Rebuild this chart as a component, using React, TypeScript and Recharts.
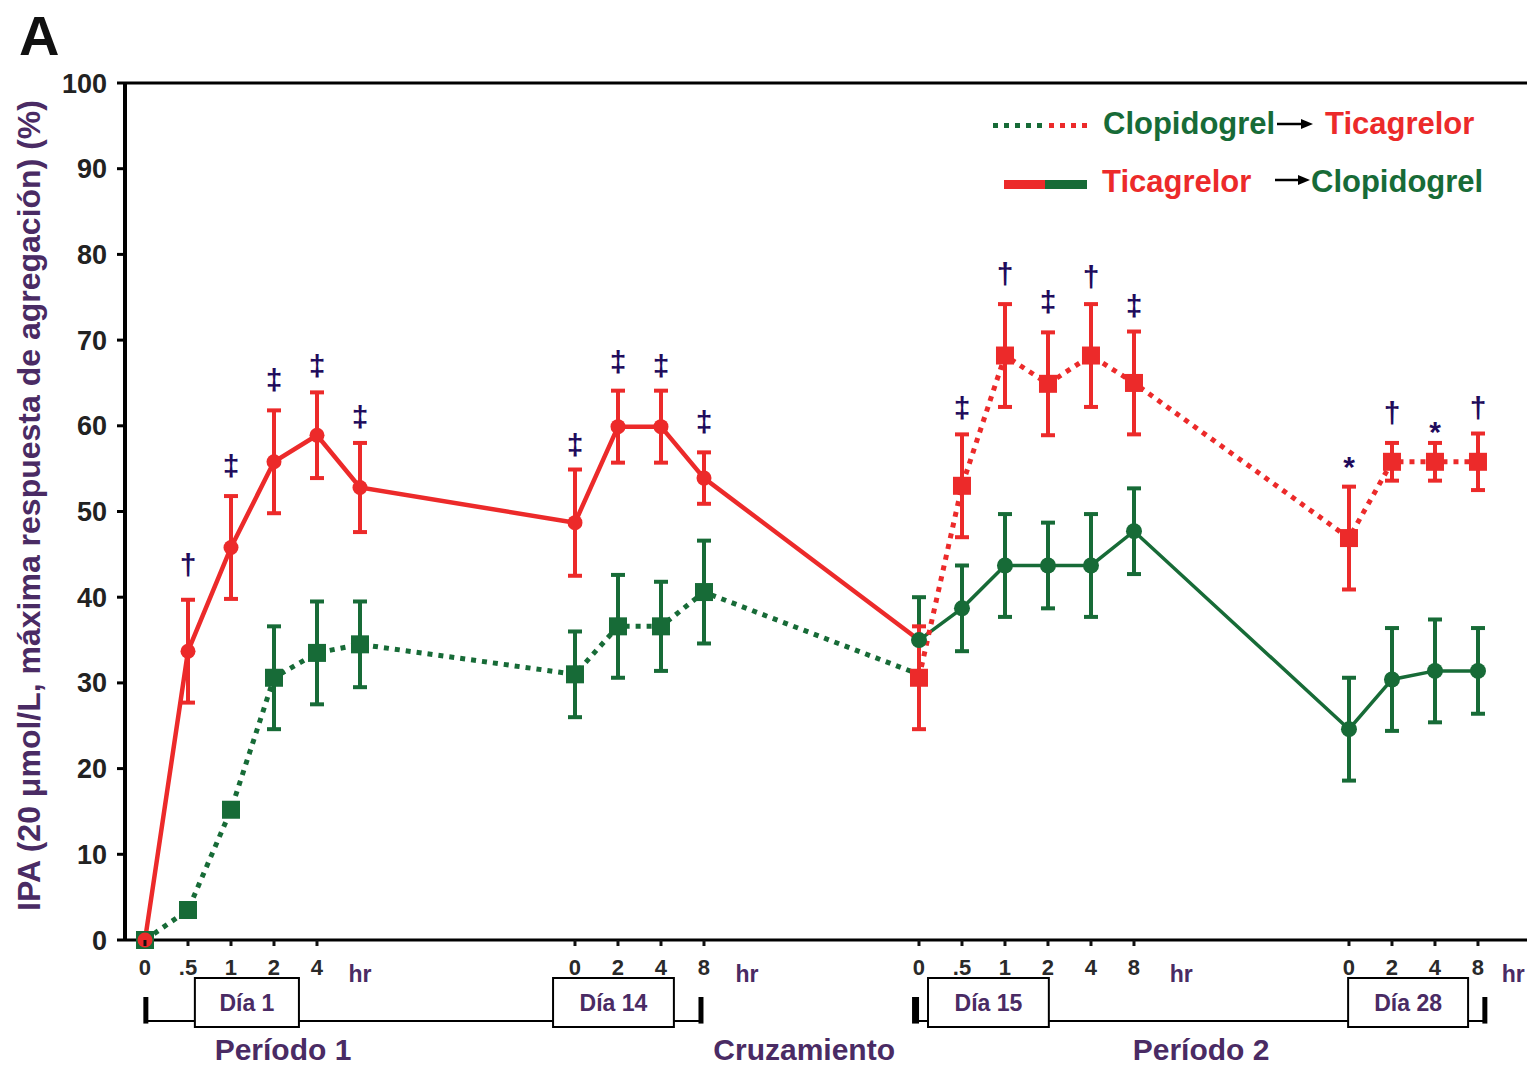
import React from 'react';
import {
  ComposedChart,
  Line,
  XAxis,
  YAxis,
  ErrorBar,
  ReferenceLine,
  ReferenceArea,
  ReferenceDot,
} from 'recharts';

// ---------- DATA ----------
// time-point slots along the x axis (each slot = one sampling time)
const xP1 = [0, 1, 2, 3, 4, 5, 10, 11, 12, 13, 18];
const xP2 = [18, 19, 20, 21, 22, 23, 28, 29, 30, 31];

// Clopidogrel -> Ticagrelor group
const clopP1 = [0, 3.5, 15.2, 30.6, 33.5, 34.5, 31, 36.6, 36.6, 40.6, 31];
const clopP1Err = [0, 0, 0, 6, 6, 5, 5, 6, 5.2, 6, 0];
const ticaP2 = [30.6, 53, 68.2, 64.9, 68.2, 65, 46.9, 55.8, 55.8, 55.8];
const ticaP2Err = [6, 6, 6, 6, 6, 6, 6, 2.2, 2.2, 3.3];

// Ticagrelor -> Clopidogrel group
const ticaP1 = [0, 33.7, 45.8, 55.8, 58.9, 52.8, 48.7, 59.9, 59.9, 53.9, 35];
const ticaP1Err = [0, 6, 6, 6, 5, 5.2, 6.2, 4.2, 4.2, 3, 0];
const clopP2 = [35, 38.7, 43.7, 43.7, 43.7, 47.7, 24.6, 30.4, 31.4, 31.4];
const clopP2Err = [5, 5, 6, 5, 6, 5, 6, 6, 6, 5];

// significance marks
const annX = [1, 2, 3, 4, 5, 10, 11, 12, 13, 19, 20, 21, 22, 23, 28, 29, 30, 31];
const annY = [43.8, 55.4, 65.4, 67.1, 61.1, 57.8, 67.5, 67.1, 60.5, 62.2, 77.8, 74.5, 77.4, 74.1, 55.3, 61.6, 59.3, 62.2];
const annSym = ['†', '‡', '‡', '‡', '‡', '‡', '‡', '‡', '‡', '‡', '†', '‡', '†', '‡', '*', '†', '*', '†'];

// axis ticks
const tickXs = [0, 1, 2, 3, 4, 5, 10, 11, 12, 13, 14, 18, 19, 20, 21, 22, 23, 24.1, 28, 29, 30, 31, 31.82];
const tickLabels = ['0', '.5', '1', '2', '4', 'hr', '0', '2', '4', '8', 'hr', '0', '.5', '1', '2', '4', '8', 'hr', '0', '2', '4', '8', 'hr'];
const yTicks = [0, 10, 20, 30, 40, 50, 60, 70, 80, 90, 100];

// study phase labels
const dayNames = ['Día 1', 'Día 14', 'Día 15', 'Día 28'];
const periodNames = ['Período 1', 'Cruzamiento', 'Período 2'];

// ---------- STYLE / LAYOUT ----------
const RED = '#ec2a2a';
const GREEN = '#176b37';
const NAVY = '#1f0b5c';
const PURPLE = '#4a2b64';
const FONT = '"Liberation Sans", Arial, Helvetica, sans-serif';

const dayBoxes = [
  [1.16, 3.58],
  [9.49, 12.3],
  [18.21, 21.02],
  [27.98, 30.77],
];
const periodX = [3.21, 15.33, 24.56];
const brackets = [
  [0.02, 12.93],
  [17.92, 31.16],
];
const BOX_TOP = -4.43;
const BOX_BOT = -10.15;
const BR_Y = -9.45;
const TICK_TOP = -6.65;
const TICK_BOT = -9.75;
const PERIOD_Y = -12.75;

// bracket line pieces that run between the day boxes
const bracketPieces: number[][] = [
  [brackets[0][0], dayBoxes[0][0]],
  [dayBoxes[0][1], dayBoxes[1][0]],
  [dayBoxes[1][1], brackets[0][1]],
  [brackets[1][0], dayBoxes[2][0]],
  [dayBoxes[2][1], dayBoxes[3][0]],
  [dayBoxes[3][1], brackets[1][1]],
];

const XTick = (props: any) => {
  const { x, y, payload } = props;
  const i = tickXs.indexOf(payload.value);
  const lab = tickLabels[i];
  if (lab === 'hr') {
    return (
      <text x={x} y={y + 42} textAnchor="middle" fill={PURPLE} fontSize={23} fontWeight="bold" fontFamily={FONT}>
        hr
      </text>
    );
  }
  return (
    <g>
      <line x1={x} x2={x} y1={y} y2={y + 6} stroke="#111" strokeWidth={3} />
      <text x={x} y={y + 35} textAnchor="middle" fill="#2a2a2a" fontSize={22} fontWeight="bold" fontFamily={FONT}>
        {lab}
      </text>
    </g>
  );
};

const square = (color: string, size: number) => (p: any) => {
  const { cx, cy, index, payload } = p;
  if (cx == null || cy == null || payload?.noDot) return <g key={`s-${index}`} />;
  return <rect key={`s-${index}`} x={cx - size / 2} y={cy - size / 2} width={size} height={size} fill={color} />;
};
const roundDot = (color: string, r: number) => (p: any) => {
  const { cx, cy, index, payload } = p;
  if (cx == null || cy == null || payload?.noDot) return <g key={`c-${index}`} />;
  return <circle key={`c-${index}`} cx={cx} cy={cy} r={r} fill={color} />;
};

const YLabel = (props: any) => {
  const vb = props.viewBox || { y: 83, height: 857 };
  const cy = vb.y + vb.height / 2 - 6;
  return (
    <text
      x={40}
      y={cy}
      transform={`rotate(-90, 40, ${cy})`}
      textAnchor="middle"
      fill={PURPLE}
      fontSize={32}
      fontWeight="bold"
      fontFamily={FONT}
    >
      IPA (20 μmol/L, máxima respuesta de agregación) (%)
    </text>
  );
};

export default function App() {
  const dP1Clop = xP1.map((x, i) => ({ x, y: clopP1[i], e: clopP1Err[i], noDot: i === xP1.length - 1 }));
  const dP1Tica = xP1.map((x, i) => ({ x, y: ticaP1[i], e: ticaP1Err[i], noDot: i === xP1.length - 1 }));
  const dP2Tica = xP2.map((x, i) => ({ x, y: ticaP2[i], e: ticaP2Err[i] }));
  const dP2Clop = xP2.map((x, i) => ({ x, y: clopP2[i], e: clopP2Err[i] }));

  const labelStyle = { fill: PURPLE, fontWeight: 'bold', fontFamily: FONT } as any;

  return (
    <div style={{ position: 'absolute', left: 0, top: 0, width: 1527, height: 1067, background: '#fff' }}>
      <ComposedChart width={1527} height={1067} margin={{ top: 83, right: 0, bottom: 0, left: 0 }}>
        <XAxis
          type="number"
          dataKey="x"
          domain={[-0.465, 32.14]}
          allowDataOverflow
          ticks={tickXs}
          interval={0}
          tick={(p: any) => <XTick {...p} />}
          tickLine={false}
          tickSize={0}
          tickMargin={0}
          height={127}
          axisLine={{ stroke: '#000', strokeWidth: 3 }}
        />
        <YAxis
          type="number"
          domain={[0, 100]}
          ticks={yTicks}
          interval={0}
          width={125}
          tickSize={8}
          tickMargin={10}
          tickLine={{ stroke: '#000', strokeWidth: 3 }}
          axisLine={{ stroke: '#000', strokeWidth: 4 }}
          tick={{ fill: '#222', fontSize: 27, fontWeight: 'bold', fontFamily: FONT }}
          label={{ content: (p: any) => <YLabel {...p} /> }}
        />
        <ReferenceLine y={100} stroke="#000" strokeWidth={3} />

        {/* study-phase brackets */}
        {bracketPieces.map((b, i) => (
          <ReferenceLine
            key={`bl-${i}`}
            segment={[{ x: b[0], y: BR_Y }, { x: b[1], y: BR_Y }]}
            stroke="#000"
            strokeWidth={2}
            ifOverflow="visible"
          />
        ))}
        {brackets.flatMap((b, i) =>
          b.map((bx, j) => (
            <ReferenceLine
              key={`bt-${i}-${j}`}
              segment={[{ x: bx, y: TICK_TOP }, { x: bx, y: TICK_BOT }]}
              stroke="#000"
              strokeWidth={i === 1 && j === 0 ? 7 : 5}
              ifOverflow="visible"
            />
          ))
        )}
        {dayBoxes.map((b, i) => (
          <ReferenceArea
            key={`db-${i}`}
            x1={b[0]}
            x2={b[1]}
            y1={BOX_BOT}
            y2={BOX_TOP}
            fill="#fff"
            fillOpacity={1}
            stroke="#000"
            strokeWidth={2}
            ifOverflow="visible"
            label={{ value: dayNames[i], position: 'center', fontSize: 23, ...labelStyle }}
          />
        ))}
        {periodNames.map((n, i) => (
          <ReferenceDot
            key={`pn-${i}`}
            x={periodX[i]}
            y={PERIOD_Y}
            r={0}
            fill="none"
            stroke="none"
            ifOverflow="visible"
            label={{ value: n, position: 'center', fontSize: 30, ...labelStyle }}
          />
        ))}

        {/* series */}
        <Line
          data={dP1Clop}
          dataKey="y"
          stroke={GREEN}
          strokeWidth={5}
          strokeDasharray="5 6"
          dot={square(GREEN, 18)}
          activeDot={false}
          isAnimationActive={false}
        >
          <ErrorBar dataKey="e" direction="y" width={7} stroke={GREEN} strokeWidth={4} isAnimationActive={false} />
        </Line>
        <Line
          data={dP1Tica}
          dataKey="y"
          stroke={RED}
          strokeWidth={4.5}
          dot={roundDot(RED, 7.5)}
          activeDot={false}
          isAnimationActive={false}
        >
          <ErrorBar dataKey="e" direction="y" width={7} stroke={RED} strokeWidth={4} isAnimationActive={false} />
        </Line>
        <Line
          data={dP2Clop}
          dataKey="y"
          stroke={GREEN}
          strokeWidth={3.5}
          dot={roundDot(GREEN, 8)}
          activeDot={false}
          isAnimationActive={false}
        >
          <ErrorBar dataKey="e" direction="y" width={7} stroke={GREEN} strokeWidth={4} isAnimationActive={false} />
        </Line>
        <Line
          data={dP2Tica}
          dataKey="y"
          stroke={RED}
          strokeWidth={5}
          strokeDasharray="5 6"
          dot={square(RED, 18)}
          activeDot={false}
          isAnimationActive={false}
        >
          <ErrorBar dataKey="e" direction="y" width={7} stroke={RED} strokeWidth={4} isAnimationActive={false} />
        </Line>

        {/* significance marks */}
        {annX.map((x, i) => (
          <ReferenceDot
            key={`an-${i}`}
            x={x}
            y={annY[i]}
            r={0}
            fill="none"
            stroke="none"
            ifOverflow="visible"
            label={{ value: annSym[i], position: 'center', fill: NAVY, fontSize: 30, fontWeight: 'bold', fontFamily: FONT }}
          />
        ))}
      </ComposedChart>

      {/* panel letter and legend */}
      <svg
        width={1527}
        height={220}
        style={{ position: 'absolute', left: 0, top: 0, pointerEvents: 'none' }}
      >
        <text x={19} y={55} fontSize={56} fontWeight="bold" fontFamily={FONT} fill="#111">
          A
        </text>
        <line x1={993} x2={1047} y1={125.5} y2={125.5} stroke={GREEN} strokeWidth={5} strokeDasharray="5 6" />
        <line x1={1049} x2={1087} y1={125.5} y2={125.5} stroke={RED} strokeWidth={5} strokeDasharray="5 6" />
        <text x={1103} y={134} fontSize={31} fontWeight="bold" fontFamily={FONT} fill={GREEN}>
          Clopidogrel
        </text>
        <line x1={1277} x2={1303} y1={124} y2={124} stroke="#000" strokeWidth={2.5} />
        <polygon points="1313,124 1301,119 1301,129" fill="#000" />
        <text x={1325} y={134} fontSize={31} fontWeight="bold" fontFamily={FONT} fill={RED}>
          Ticagrelor
        </text>

        <rect x={1004} y={180} width={41} height={9} fill={RED} />
        <rect x={1045} y={180} width={42} height={9} fill={GREEN} />
        <text x={1102} y={192} fontSize={31} fontWeight="bold" fontFamily={FONT} fill={RED}>
          Ticagrelor
        </text>
        <line x1={1275} x2={1300} y1={180} y2={180} stroke="#000" strokeWidth={2.5} />
        <polygon points="1310,180 1298,175 1298,185" fill="#000" />
        <text x={1311} y={192} fontSize={31} fontWeight="bold" fontFamily={FONT} fill={GREEN}>
          Clopidogrel
        </text>
      </svg>
    </div>
  );
}
